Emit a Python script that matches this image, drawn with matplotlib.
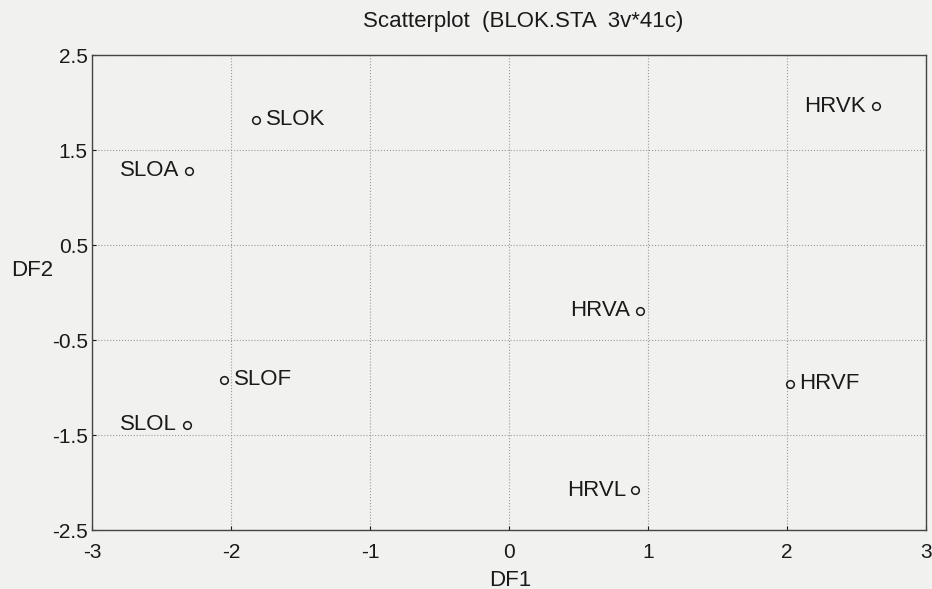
import matplotlib.pyplot as plt

# Datos (DF1, DF2)
etiquetas = ['SLOK', 'SLOA', 'HRVK', 'HRVA', 'HRVF', 'HRVL', 'SLOF', 'SLOL']
df1 = [-1.82, -2.30, 2.64, 0.94, 2.02, 0.91, -2.05, -2.32]
df2 = [1.82, 1.28, 1.96, -0.19, -0.96, -2.08, -0.92, -1.39]
lado = ['d', 'i', 'i', 'i', 'd', 'i', 'd', 'i']  # etiqueta a la derecha / izquierda

x_ticks = [-3, -2, -1, 0, 1, 2, 3]
y_ticks = [2.5, 1.5, 0.5, -0.5, -1.5, -2.5]

plt.rcParams['font.family'] = ['Liberation Sans', 'DejaVu Sans']
fondo = '#f1f1f0'
tinta = '#1a1a1a'

fig = plt.figure(figsize=(9.32, 5.89), dpi=100, facecolor=fondo)
ax = fig.add_axes([92 / 932, 1 - 530 / 589, 834 / 932, 475 / 589], facecolor=fondo)

ax.plot(df1, df2, linestyle='none', marker='o', markersize=5.5,
        markerfacecolor='none', markeredgecolor=tinta, markeredgewidth=1.1)

for x, y, t, l in zip(df1, df2, etiquetas, lado):
    if l == 'd':
        ax.annotate(t, (x, y), xytext=(7, 0), textcoords='offset points',
                    ha='left', va='center', fontsize=16, color=tinta)
    else:
        ax.annotate(t, (x, y), xytext=(-7, 0), textcoords='offset points',
                    ha='right', va='center', fontsize=16, color=tinta)

ax.set_xlim(-3, 3)
ax.set_ylim(-2.5, 2.5)
ax.set_xticks(x_ticks)
ax.set_yticks(y_ticks)
ax.set_xticklabels([str(v) for v in x_ticks])
ax.set_yticklabels([str(v) for v in y_ticks])
ax.tick_params(direction='in', length=3, width=0.8, colors=tinta, labelsize=15)
ax.tick_params(axis='x', pad=9)
ax.tick_params(axis='y', pad=3)
ax.grid(True, linestyle=':', color='#9a9a9a', linewidth=0.8)

for s in ax.spines.values():
    s.set_color('#444444')
    s.set_linewidth(1.0)

fig.text(523 / 932, 1 - 22 / 589, 'Scatterplot  (BLOK.STA  3v*41c)', ha='center', va='center',
         fontsize=16, color=tinta)
fig.text(32 / 932, 1 - 270 / 589, 'DF2', ha='center', va='center', fontsize=16, color=tinta)
fig.text(510 / 932, 1 - 580 / 589, 'DF1', ha='center', va='center', fontsize=16, color=tinta)

fig.savefig('out.png', dpi=100, facecolor=fondo)
